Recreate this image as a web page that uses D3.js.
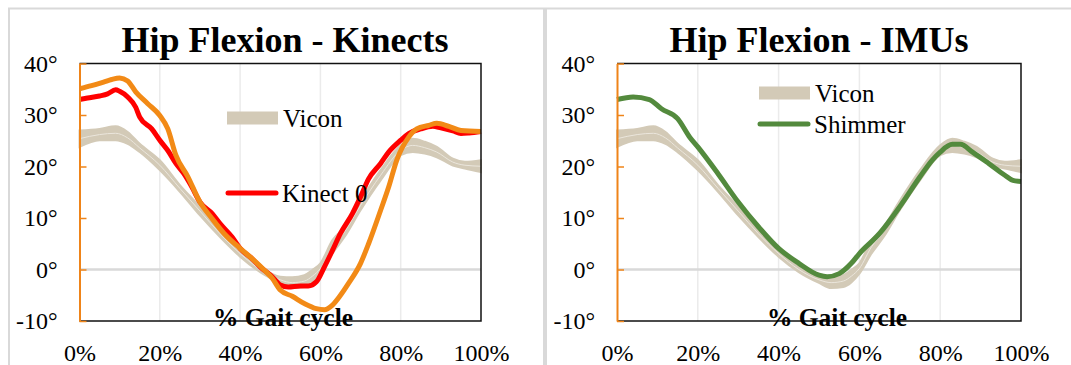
<!DOCTYPE html>
<html lang="en">
<head>
    <meta charset="UTF-8">
    <title>Hip Flexion</title>
    <script src="https://d3js.org/d3.v7.min.js"></script>
    <style>
        body { margin: 0; background: #fff; }
        text { font-family: "Liberation Serif", "Times New Roman", serif; }
    </style>
</head>
<body>
    <div class="chart"></div>
    <script>
        // Vicon band (upper / lower edge), shared by both panels
        const viconPct   = [0, 5, 9, 12, 15, 20, 25, 30, 35, 40, 45, 50, 53, 56, 58, 60, 63, 66, 70, 75, 80, 83, 86, 89, 93, 96, 100];
        const viconUpper = [27.0, 27.3, 27.8, 26.7, 24.4, 21.2, 16.4, 12.2, 7.6, 3.7, 0.5, -1.4, -1.5, -1.1, -0.1, 1.2, 5.7, 8.3, 13.4, 19.3, 24.1, 25.4, 24.8, 23.8, 21.5, 20.9, 21.2];
        const viconLower = [23.8, 25.1, 25.1, 24.4, 22.8, 19.3, 15.1, 10.5, 6.3, 2.5, -0.5, -2.6, -3.6, -3.4, -2.5, -0.8, 3.1, 6.3, 11.5, 17.3, 22.2, 22.8, 22.5, 21.8, 20.2, 19.6, 18.9];

        const kinect0Pct = [0, 2, 5, 7, 9, 10, 12, 14, 15, 18, 20, 22, 24, 26, 28, 30, 33, 35, 38, 40, 43, 45, 48, 50, 52, 55, 57, 59, 61, 63, 65, 68, 70, 72, 75, 77, 80, 82, 85, 88, 90, 93, 95, 97, 100];
        const kinect0Deg = [33.0, 33.3, 33.7, 34.1, 34.9, 34.6, 33.5, 31.5, 29.6, 27.3, 25.1, 23.1, 20.6, 18.6, 16.0, 13.1, 10.9, 8.9, 6.3, 4.1, 2.1, 0.5, -1.4, -3.0, -3.4, -3.2, -3.2, -2.4, 0.5, 3.7, 7.0, 10.9, 14.1, 17.6, 20.6, 22.8, 25.1, 26.4, 27.3, 27.8, 27.5, 26.9, 26.4, 26.5, 26.8];

        const kinect1Pct = [0, 3, 6, 8, 10, 12, 14, 17, 20, 22, 24, 27, 30, 33, 36, 40, 43, 46, 48, 50, 53, 56, 59, 61, 63, 65, 67, 70, 72, 75, 77, 79, 82, 84, 87, 89, 92, 95, 100];
        const kinect1Deg = [35.1, 35.7, 36.4, 36.9, 37.2, 36.6, 34.5, 32.2, 29.9, 27.3, 22.2, 18.0, 13.1, 9.9, 7.0, 4.1, 2.1, -0.1, -1.7, -4.0, -5.2, -6.6, -7.6, -7.8, -6.9, -5.0, -2.7, 1.2, 5.0, 11.5, 16.0, 21.2, 25.7, 27.3, 28.0, 28.4, 27.8, 27.0, 26.8];

        const shimmerPct = [0, 4, 8, 11, 15, 18, 20, 25, 30, 35, 40, 45, 50, 52, 55, 58, 60, 65, 70, 75, 78, 80, 83, 85, 88, 92, 96, 98, 100];
        const shimmerDeg = [33.0, 33.5, 33.0, 31.2, 29.3, 25.7, 23.8, 18.6, 13.1, 8.3, 4.1, 1.2, -1.1, -1.4, -0.8, 1.2, 3.1, 7.0, 12.2, 18.0, 21.2, 22.8, 24.3, 24.3, 22.8, 20.6, 18.3, 17.3, 17.1];

        const yTicks = [-10, 0, 10, 20, 30, 40];
        const xTicks = [0, 20, 40, 60, 80, 100];
        const xGrid = [20, 40, 60, 80];

        const viconColor = "#d3cab7";
        const axisOrange = "#ef8419";

        const pairs = (xs, ys) => xs.map((x, i) => [x, ys[i]]);

        const width = 1071;
        const height = 365;

        const svg = d3.select('.chart')
            .append('svg')
            .attr('width', width)
            .attr('height', height);

        // outer frames
        svg.append('path')
            .attr('d', 'M9,365V8.5H1071')
            .attr('fill', 'none')
            .attr('stroke', '#d9d9d9')
            .attr('stroke-width', 2);
        svg.append('line')
            .attr('x1', 545).attr('x2', 545).attr('y1', 8).attr('y2', 365)
            .attr('stroke', '#d9d9d9')
            .attr('stroke-width', 4);

        function drawPanel(p) {
            const x = d3.scaleLinear().domain([0, 100]).range([p.left, p.right]);
            const y = d3.scaleLinear().domain([-10, 40]).range([321, 63.5]);
            const g = svg.append('g');

            g.selectAll('.vgrid')
                .data(xGrid)
                .enter()
                .append('line')
                .attr('x1', d => x(d)).attr('x2', d => x(d))
                .attr('y1', y(40)).attr('y2', y(-10))
                .attr('stroke', '#ebebeb')
                .attr('stroke-width', 1.5);

            g.append('line')
                .attr('x1', x(0)).attr('x2', x(100))
                .attr('y1', y(0)).attr('y2', y(0))
                .attr('stroke', '#d9d9d9')
                .attr('stroke-width', 2.5);

            // Vicon band
            const band = viconPct.map((d, i) => ({ pct: d, hi: viconUpper[i], lo: viconLower[i] }));
            const area = d3.area()
                .x(d => x(d.pct))
                .y0(d => y(d.lo))
                .y1(d => y(d.hi))
                .curve(d3.curveMonotoneX);
            g.append('path')
                .datum(band)
                .attr('d', area)
                .attr('fill', viconColor)
                .attr('stroke', viconColor)
                .attr('stroke-width', 2);
            g.append('path')
                .datum(band)
                .attr('d', d3.line().x(d => x(d.pct)).y(d => y((d.hi + d.lo) / 2)).curve(d3.curveMonotoneX))
                .attr('fill', 'none')
                .attr('stroke', '#ebe6dc')
                .attr('stroke-width', 1);

            const line = d3.line()
                .x(d => x(d[0]))
                .y(d => y(d[1]))
                .curve(d3.curveMonotoneX);

            p.series.forEach(s => {
                g.append('path')
                    .datum(s.data)
                    .attr('d', line)
                    .attr('fill', 'none')
                    .attr('stroke', s.color)
                    .attr('stroke-width', 5)
                    .attr('stroke-linejoin', 'round');
            });

            // plot border (top, right, bottom)
            g.append('path')
                .attr('d', `M${x(0)},${y(40)}H${x(100)}V${y(-10)}H${x(0)}`)
                .attr('fill', 'none')
                .attr('stroke', '#111')
                .attr('stroke-width', 1.5);

            const yAxis = g.append('g')
                .attr('transform', `translate(${x(0)},0)`)
                .call(d3.axisLeft(y).tickValues(yTicks).tickFormat(d => d + '°').tickSizeInner(-7).tickSizeOuter(0).tickPadding(22));
            yAxis.select('.domain').attr('stroke', axisOrange).attr('stroke-width', 2);
            yAxis.selectAll('.tick line').attr('stroke', axisOrange).attr('stroke-width', 1.5);
            yAxis.selectAll('.tick text')
                .attr('fill', '#000')
                .style('font-family', '"Liberation Serif", serif')
                .style('font-size', '24px');

            const xAxis = g.append('g')
                .attr('transform', `translate(0,${y(-10)})`)
                .call(d3.axisBottom(x).tickValues(xTicks).tickFormat(d => d + '%').tickSize(0).tickPadding(23));
            xAxis.select('.domain').remove();
            xAxis.selectAll('.tick text')
                .attr('fill', '#000')
                .style('font-family', '"Liberation Serif", serif')
                .style('font-size', '24px');

            // title
            g.append('text')
                .attr('x', p.titleX)
                .attr('y', 52)
                .attr('text-anchor', 'middle')
                .style('font-size', '36px')
                .style('font-weight', 'bold')
                .text(p.title);

            // legend
            p.legend.forEach(l => {
                if (l.band) {
                    g.append('rect')
                        .attr('x', l.x).attr('y', l.y - 6.5)
                        .attr('width', 51).attr('height', 13)
                        .attr('fill', viconColor);
                } else {
                    g.append('line')
                        .attr('x1', l.x + 2).attr('x2', l.x + 50)
                        .attr('y1', l.y).attr('y2', l.y)
                        .attr('stroke', l.color)
                        .attr('stroke-width', 5)
                        .attr('stroke-linecap', 'round');
                }
                g.append('text')
                    .attr('x', l.x + 56)
                    .attr('y', l.y + 9)
                    .style('font-size', '25px')
                    .text(l.label);
            });

            g.append('text')
                .attr('x', p.gaitX)
                .attr('y', 326)
                .attr('text-anchor', 'middle')
                .style('font-size', '25.5px')
                .style('font-weight', 'bold')
                .text('% Gait cycle');
        }

        drawPanel({
            left: 79.5, right: 481,
            title: 'Hip Flexion - Kinects', titleX: 285, gaitX: 283,
            series: [
                { data: pairs(kinect0Pct, kinect0Deg), color: '#ff0000' },
                { data: pairs(kinect1Pct, kinect1Deg), color: '#f28a16' }
            ],
            legend: [
                { band: true, x: 227, y: 118, label: 'Vicon' },
                { color: '#ff0000', x: 226, y: 193, label: 'Kinect 0' }
            ]
        });

        drawPanel({
            left: 617, right: 1021,
            title: 'Hip Flexion - IMUs', titleX: 819, gaitX: 837,
            series: [
                { data: pairs(shimmerPct, shimmerDeg), color: '#538a3d' }
            ],
            legend: [
                { band: true, x: 759, y: 93, label: 'Vicon' },
                { color: '#538a3d', x: 758, y: 124, label: 'Shimmer' }
            ]
        });
    </script>
</body>
</html>
